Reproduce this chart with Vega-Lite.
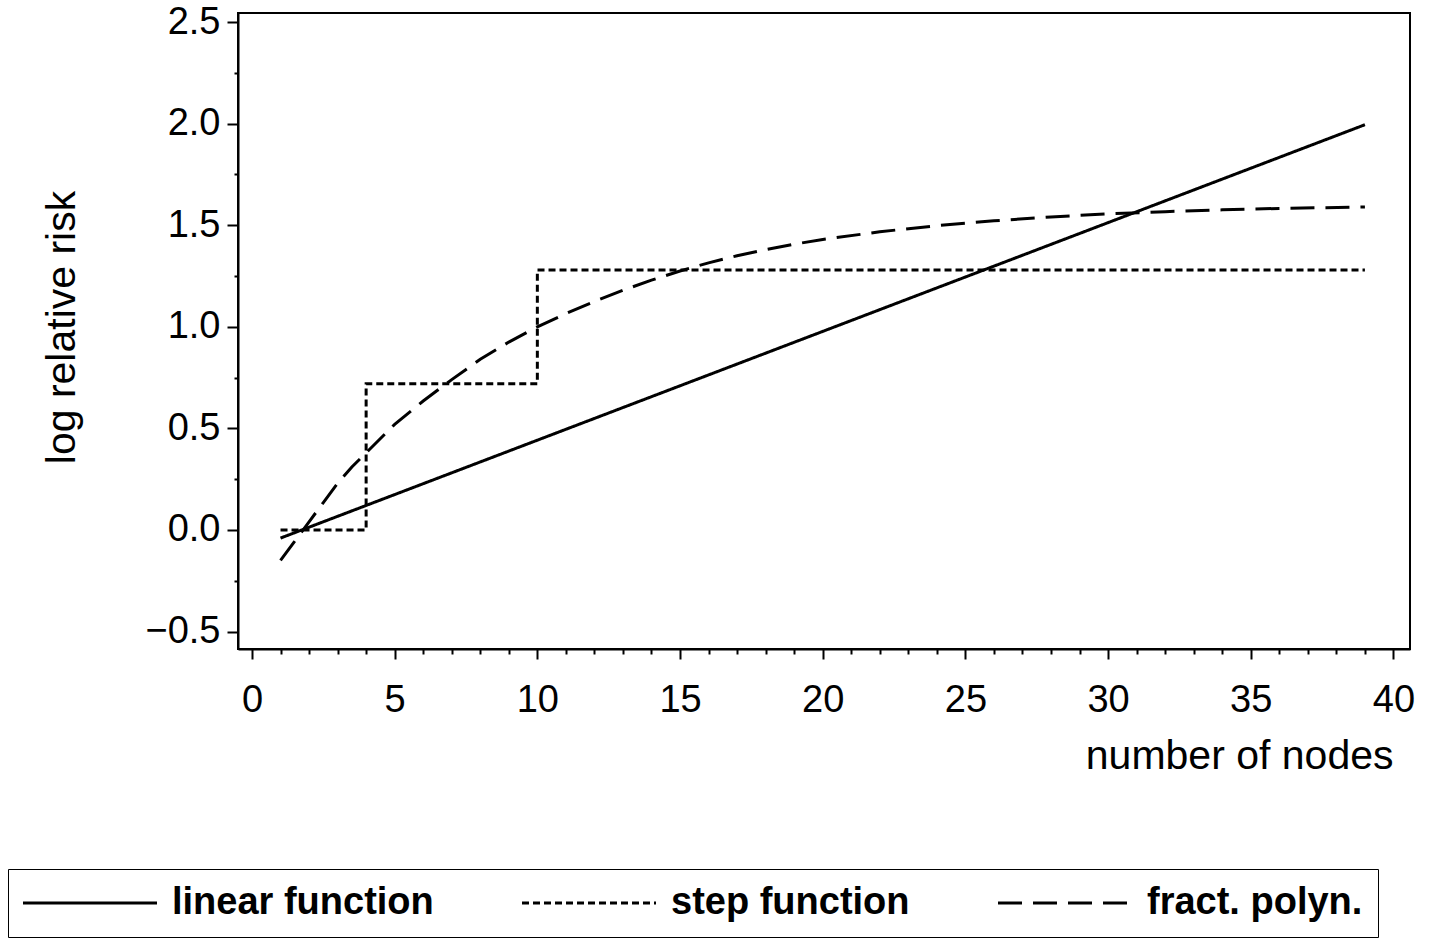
{
  "$schema": "https://vega.github.io/schema/vega-lite/v6.json",
  "width": 1172,
  "height": 636,
  "autosize": {"type": "none"},
  "padding": {"left": 238, "top": 13, "right": 31, "bottom": 294},
  "background": "white",
  "config": {
    "view": {"stroke": "black", "strokeWidth": 2},
    "font": "Liberation Sans",
    "axis": {
      "domainColor": "black", "domainWidth": 2,
      "tickColor": "black", "tickWidth": 2,
      "labelColor": "black", "titleColor": "black",
      "labelFont": "Liberation Sans", "titleFont": "Liberation Sans",
      "labelFontSize": 38, "titleFontSize": 41, "titleFontWeight": "normal",
      "grid": false, "labelOverlap": false
    }
  },
  "data": {
    "values": [
      {"series": "linear function", "x": 1, "y": -0.04},
      {"series": "linear function", "x": 39, "y": 1.995},
      {"series": "step function", "x": 1, "y": 0},
      {"series": "step function", "x": 4, "y": 0.72},
      {"series": "step function", "x": 10, "y": 1.28},
      {"series": "step function", "x": 39, "y": 1.28},
      {"series": "fract. polyn.", "x": 1, "y": -0.15},
      {"series": "fract. polyn.", "x": 1.5, "y": -0.055},
      {"series": "fract. polyn.", "x": 2, "y": 0.04},
      {"series": "fract. polyn.", "x": 2.5, "y": 0.135},
      {"series": "fract. polyn.", "x": 3, "y": 0.23},
      {"series": "fract. polyn.", "x": 3.5, "y": 0.31},
      {"series": "fract. polyn.", "x": 4, "y": 0.38},
      {"series": "fract. polyn.", "x": 5, "y": 0.52},
      {"series": "fract. polyn.", "x": 6, "y": 0.635},
      {"series": "fract. polyn.", "x": 7, "y": 0.74},
      {"series": "fract. polyn.", "x": 8, "y": 0.84},
      {"series": "fract. polyn.", "x": 9, "y": 0.925},
      {"series": "fract. polyn.", "x": 10, "y": 1.0},
      {"series": "fract. polyn.", "x": 11, "y": 1.065},
      {"series": "fract. polyn.", "x": 12, "y": 1.125},
      {"series": "fract. polyn.", "x": 13, "y": 1.18},
      {"series": "fract. polyn.", "x": 14, "y": 1.23},
      {"series": "fract. polyn.", "x": 15, "y": 1.275},
      {"series": "fract. polyn.", "x": 16, "y": 1.315},
      {"series": "fract. polyn.", "x": 17, "y": 1.35},
      {"series": "fract. polyn.", "x": 18, "y": 1.38},
      {"series": "fract. polyn.", "x": 19, "y": 1.407},
      {"series": "fract. polyn.", "x": 20, "y": 1.43},
      {"series": "fract. polyn.", "x": 22, "y": 1.468},
      {"series": "fract. polyn.", "x": 24, "y": 1.498},
      {"series": "fract. polyn.", "x": 26, "y": 1.522},
      {"series": "fract. polyn.", "x": 28, "y": 1.541},
      {"series": "fract. polyn.", "x": 30, "y": 1.556},
      {"series": "fract. polyn.", "x": 32, "y": 1.567},
      {"series": "fract. polyn.", "x": 34, "y": 1.576},
      {"series": "fract. polyn.", "x": 36, "y": 1.583},
      {"series": "fract. polyn.", "x": 39, "y": 1.59}
    ]
  },
  "resolve": {"axis": {"x": "independent", "y": "independent"}},
  "layer": [
    {
      "transform": [{"filter": "datum.series !== 'step function'"}],
      "mark": {"type": "line", "strokeWidth": 3, "color": "black"},
      "encoding": {
        "x": {
          "field": "x", "type": "quantitative",
          "scale": {"domain": [-0.49, 40.58], "nice": false, "zero": false},
          "axis": {
            "orient": "bottom",
            "title": "number of nodes",
            "values": [0, 5, 10, 15, 20, 25, 30, 35, 40],
            "tickSize": 10,
            "labelPadding": 22,
            "titleX": 1155, "titleY": 107, "titleAlign": "right", "titleBaseline": "middle"
          }
        },
        "y": {
          "field": "y", "type": "quantitative",
          "scale": {"domain": [-0.586, 2.545], "nice": false, "zero": false},
          "axis": {
            "orient": "left",
            "title": "log relative risk",
            "values": [-0.5, 0, 0.5, 1, 1.5, 2, 2.5],
            "format": ".1f",
            "tickSize": 11,
            "labelPadding": 7,
            "titleX": -176, "titleY": 314, "titleAlign": "center", "titleBaseline": "middle"
          }
        },
        "strokeDash": {
          "field": "series", "type": "nominal",
          "scale": {
            "domain": ["linear function", "step function", "fract. polyn."],
            "range": [[1, 0], [7, 4], [24, 11]]
          },
          "legend": {
            "orient": "none", "legendX": -230, "legendY": 856,
            "direction": "horizontal", "title": null,
            "symbolType": "M-1.9,0H11.5", "symbolSize": 400,
            "symbolStrokeWidth": 3, "symbolStrokeColor": "black", "symbolFillColor": "transparent",
            "labelFontSize": 38, "labelFont": "Liberation Sans", "labelFontWeight": "bold", "labelColor": "black",
            "labelOffset": 111, "labelLimit": 600, "columnPadding": 82,
            "padding": 15, "strokeColor": "black"
          }
        }
      }
    },
    {
      "transform": [{"filter": "datum.series === 'step function'"}],
      "mark": {"type": "line", "strokeWidth": 3, "color": "black", "interpolate": "step-after"},
      "encoding": {
        "x": {
          "field": "x", "type": "quantitative",
          "axis": {
            "orient": "bottom", "title": null, "labels": false, "domain": false,
            "values": [1,2,3,4,6,7,8,9,11,12,13,14,16,17,18,19,21,22,23,24,26,27,28,29,31,32,33,34,36,37,38,39],
            "tickSize": 5
          }
        },
        "y": {
          "field": "y", "type": "quantitative",
          "axis": {
            "orient": "left", "title": null, "labels": false, "domain": false,
            "values": [-0.25, 0.25, 0.75, 1.25, 1.75, 2.25],
            "tickSize": 4
          }
        },
        "strokeDash": {"field": "series", "type": "nominal"}
      }
    }
  ]
}
